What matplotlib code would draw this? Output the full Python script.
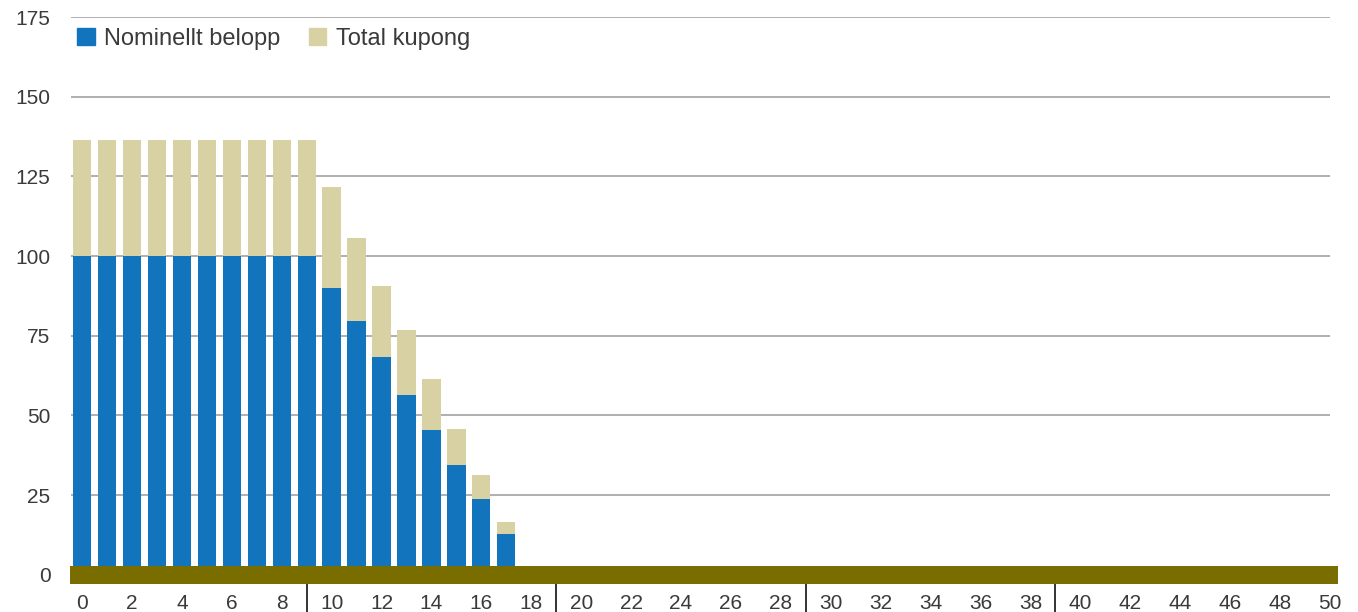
import numpy as np
import matplotlib.pyplot as plt
from matplotlib.patches import Patch

plt.rcParams['font.family'] = ['Liberation Sans', 'DejaVu Sans']

# year index and amounts
years = np.arange(0, 18)
nominellt = [100, 100, 100, 100, 100, 100, 100, 100, 100, 100,
             90, 79.5, 68.3, 56.3, 45.4, 34.5, 23.8, 12.8]
kupong = [36.4, 36.4, 36.4, 36.4, 36.4, 36.4, 36.4, 36.4, 36.4, 36.4,
          31.7, 26.2, 22.3, 20.5, 15.9, 11.2, 7.6, 3.8]
xticks = np.arange(0, 51, 2)
yticks = [0, 25, 50, 75, 100, 125, 150, 175]
separators = [9, 19, 29, 39]

blue = '#1174bd'
beige = '#d8d1a3'
olive = '#7a6d00'
txt = '#3a3a3a'

fig = plt.figure(figsize=(13.58, 6.12), dpi=100)
ax = fig.add_axes([70 / 1358, 28 / 612, 1268 / 1358, 567 / 612])

ax.set_xlim(-0.48, 50.32)
ax.set_ylim(-2.9, 175)

# grid lines
ax.hlines(yticks[1:], -0.45, 50.0, color='#a2a2a6', lw=1.2, zorder=1)

ax.bar(years, nominellt, width=0.73, color=blue, zorder=2)
ax.bar(years, kupong, width=0.73, bottom=nominellt, color=beige, zorder=2)

# thick base band at zero
ax.axhspan(-2.9, 2.9, color=olive, zorder=3, lw=0)

# separators below the axis
for s in separators:
    ax.plot([s, s], [0, -30 / 567], color='#222222', lw=1.3,
            transform=ax.get_xaxis_transform(), clip_on=False)

for sp in ax.spines.values():
    sp.set_visible(False)

ax.set_xticks(xticks)
ax.set_xticklabels([str(t) for t in xticks])
ax.set_yticks(yticks)
ax.set_yticklabels([str(t) for t in yticks])
ax.tick_params(axis='both', length=0, labelsize=15, labelcolor=txt)
ax.tick_params(axis='x', pad=7)
ax.tick_params(axis='y', pad=14)

handles = [Patch(color=blue, label='Nominellt belopp'),
           Patch(color=beige, label='Total kupong')]
ax.legend(handles=handles, loc='center left', bbox_to_anchor=(0.0055, 0.962),
          ncol=2, frameon=False, fontsize=17, labelcolor=txt,
          handlelength=0.75, handleheight=0.75, handletextpad=0.4,
          columnspacing=1.2, borderpad=0, borderaxespad=0)

fig.savefig('out.png', dpi=100)
